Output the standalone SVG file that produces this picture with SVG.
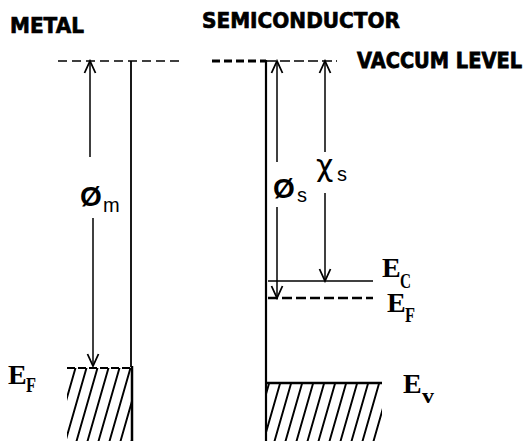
<svg xmlns="http://www.w3.org/2000/svg" width="530" height="441" viewBox="0 0 530 441">
<style>
.title{font-family:"DejaVu Sans",sans-serif;font-weight:bold;font-size:21px;fill:#000;stroke:#000;stroke-width:0.7}
.e{font-family:"Liberation Serif",serif;font-weight:bold;font-size:28px;fill:#000}
.sub{font-family:"Liberation Serif",serif;font-weight:bold;font-size:21px;fill:#000}
.sym{font-family:"Liberation Sans",sans-serif;font-size:28px;fill:#000}
.chi{font-family:"DejaVu Sans",sans-serif;font-size:30px;fill:#000}
.ss{font-family:"Liberation Sans",sans-serif;font-size:20px;fill:#000}
.ln{stroke:#000;fill:none}
.arr{stroke:#000;stroke-width:1.5;fill:none;marker-end:url(#head)}
</style>
<defs>
<marker id="head" markerUnits="userSpaceOnUse" markerWidth="16" markerHeight="14" refX="0" refY="0" viewBox="-14 -7 16 14" orient="auto">
<path d="M-12,-5.5 L0,0 L-12,5.5" fill="none" stroke="#000" stroke-width="1.8"/>
</marker>
<pattern id="hatch" patternUnits="userSpaceOnUse" width="11" height="10" patternTransform="skewX(-16)">
<line x1="5" y1="0" x2="5" y2="10" stroke="#000" stroke-width="2"/>
</pattern>
</defs>
<g id="labels">
<text class="title" x="10" y="33" textLength="74" lengthAdjust="spacingAndGlyphs">METAL</text>
<text class="title" x="202" y="28" textLength="198" lengthAdjust="spacingAndGlyphs">SEMICONDUCTOR</text>
<text class="title" transform="translate(357,68) scale(1,1.13)" x="0" y="0" style="font-size:18.3px" textLength="165" lengthAdjust="spacingAndGlyphs">VACCUM LEVEL</text>
</g>
<g id="metal">
<line class="ln" x1="58" y1="61" x2="180" y2="61" stroke-width="1.5" stroke-dasharray="9 5"/>
<line class="ln" x1="131" y1="61" x2="131" y2="367" stroke-width="1.8"/>
<rect x="67" y="368" width="65" height="73" fill="url(#hatch)"/>
<line class="ln" x1="67" y1="368" x2="132" y2="368" stroke-width="2" stroke-dasharray="8 3"/>
<line class="ln" x1="132" y1="366" x2="132" y2="441" stroke-width="2.5"/>
<text class="e" x="8" y="384">E</text>
<text class="sub" x="26" y="392" textLength="10" lengthAdjust="spacingAndGlyphs">F</text>
</g>
<g id="semiconductor">
<line class="ln" x1="212" y1="61" x2="266" y2="61" stroke-width="3" stroke-dasharray="8 4"/>
<line class="ln" x1="266" y1="61" x2="337" y2="61" stroke-width="1.5" stroke-dasharray="10 4"/>
<line class="ln" x1="266" y1="60" x2="266" y2="441" stroke-width="2.2"/>
<line class="ln" x1="268" y1="281" x2="373" y2="281" stroke-width="1.6"/>
<line class="ln" x1="268" y1="298" x2="373" y2="298" stroke-width="2.5" stroke-dasharray="10 4"/>
<rect x="266" y="383" width="116" height="58" fill="url(#hatch)"/>
<line class="ln" x1="266" y1="383" x2="382" y2="383" stroke-width="2.5"/>
<text class="e" x="382" y="277">E</text>
<text class="sub" x="400" y="288" textLength="11" lengthAdjust="spacingAndGlyphs">C</text>
<text class="e" x="387" y="312">E</text>
<text class="sub" x="405" y="322" textLength="10" lengthAdjust="spacingAndGlyphs">F</text>
<text class="e" x="403" y="393">E</text>
<text class="sub" x="422" y="403" textLength="12" lengthAdjust="spacingAndGlyphs">v</text>
</g>
<g id="connectors">
<line class="arr" x1="90" y1="157" x2="90" y2="61"/>
<line class="arr" x1="93" y1="218" x2="93" y2="366"/>
<line class="arr" x1="277" y1="162" x2="277" y2="61"/>
<line class="arr" x1="277" y1="207" x2="277" y2="298"/>
<line class="arr" x1="325" y1="152" x2="325" y2="61"/>
<line class="arr" x1="325" y1="193" x2="325" y2="281"/>
</g>
<g id="symbols">
<text class="sym" x="80" y="206" font-weight="bold">Ø</text>
<text class="ss" x="103" y="212">m</text>
<text class="sym" x="273" y="198" font-weight="bold">Ø</text>
<text class="ss" x="297" y="202">s</text>
<text class="chi" x="316" y="176">χ</text>
<text class="ss" x="337" y="181">s</text>
</g>
</svg>
